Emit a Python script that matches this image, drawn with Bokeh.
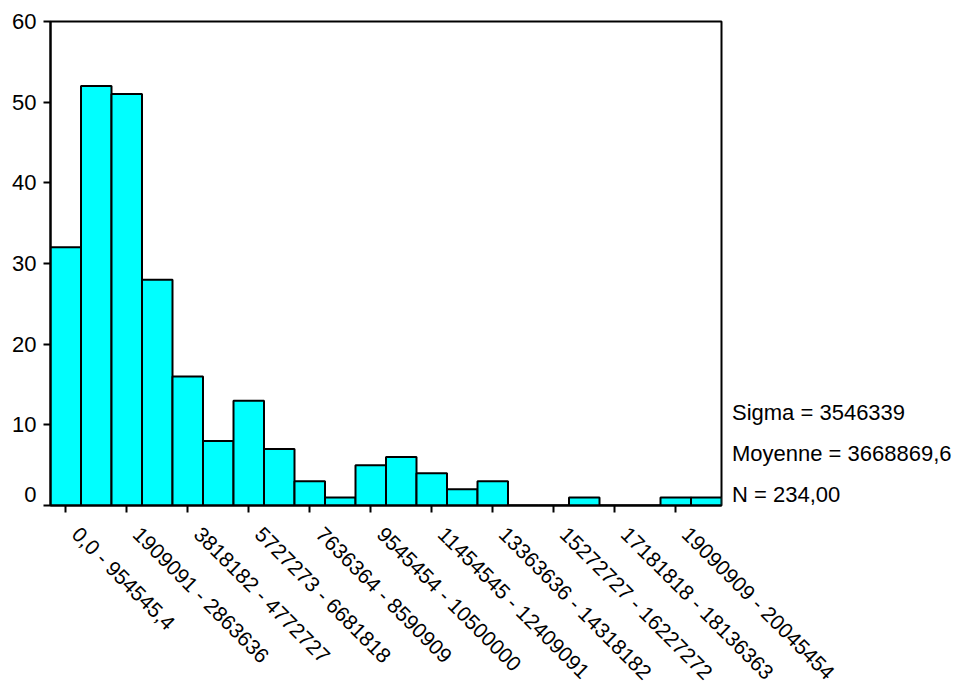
import math
from bokeh.plotting import figure
from bokeh.models import Range1d, FixedTicker, Legend, LegendItem, LinearAxis
from bokeh.core.properties import value
from bokeh.embed import file_html
from bokeh.resources import INLINE

# Histogram counts for 22 bins of width 954545.45 (0 .. 21,000,000)
counts = [32, 52, 51, 28, 16, 8, 13, 7, 3, 1, 5, 6, 4, 2, 3, 0, 0, 1, 0, 0, 1, 1]
tick_labels = [
    "0,0 - 954545,4",
    "1909091 - 2863636",
    "3818182 - 4772727",
    "5727273 - 6681818",
    "7636364 - 8590909",
    "9545454 - 10500000",
    "11454545 - 12409091",
    "13363636 - 14318182",
    "15272727 - 16227272",
    "17181818 - 18136363",
    "19090909 - 20045454",
]
y_ticks = [0, 10, 20, 30, 40, 50, 60]
y_tick_labels = ["0", "10", "20", "30", "40", "50", "60"]
stats = ["Sigma = 3546339", "Moyenne = 3668869,6", "N = 234,00"]

FONT = "Liberation Sans"
FS = "22px"
XFS = "21px"

n = len(counts)
lefts = list(range(n))
rights = [i + 1 for i in range(n)]
tick_pos = [2 * k + 0.5 for k in range(len(tick_labels))]
# labels sit slightly to the right of their tick (SPSS style)
label_pos = [t + 0.33 for t in tick_pos]
# the "0" label sits a little above its tick (SPSS style)
y_label_pos = [1.35] + y_ticks[1:]

p = figure(frame_width=671, frame_height=484, output_backend="svg", toolbar_location=None,
           x_range=Range1d(0, n), y_range=Range1d(0, 60),
           min_border_left=50, min_border_right=238, min_border_top=21, min_border_bottom=181)

p.quad(left=lefts, right=rights, bottom=0, top=counts,
       fill_color="#00FFFF", line_color="black", line_width=2)

p.xgrid.visible = False
p.ygrid.visible = False
p.outline_line_color = "black"
p.outline_line_width = 2
p.outline_line_alpha = 1

def tick_only_axis(ax, ticks):
    ax.ticker = FixedTicker(ticks=[], minor_ticks=ticks)
    ax.axis_line_color = "black"
    ax.axis_line_width = 2
    ax.major_tick_line_color = None
    ax.major_tick_out = 0
    ax.major_tick_in = 0
    ax.minor_tick_line_color = "black"
    ax.minor_tick_line_width = 2
    ax.minor_tick_out = 7
    ax.minor_tick_in = 0
    ax.major_label_standoff = 0

def label_only_axis(pos, labels, standoff, size, orientation="horizontal"):
    return LinearAxis(ticker=FixedTicker(ticks=pos),
                      major_label_overrides={t: l for t, l in zip(pos, labels)},
                      major_label_orientation=orientation,
                      major_label_standoff=standoff,
                      axis_line_color=None, major_tick_line_color=None,
                      minor_tick_line_color=None, major_tick_out=0, major_tick_in=0,
                      minor_tick_out=0, minor_tick_in=0,
                      major_label_text_font=FONT, major_label_text_font_size=size,
                      major_label_text_color="black")

# axis lines + tick marks
tick_only_axis(p.yaxis[0], y_ticks)
tick_only_axis(p.xaxis[0], tick_pos)

# tick labels
p.add_layout(label_only_axis(y_label_pos, y_tick_labels, 7, FS), "left")
p.add_layout(label_only_axis(label_pos, tick_labels, 18, XFS, -math.pi / 4), "below")

# invisible renderer to carry the statistics text in a side legend
dummy = p.scatter(x=[], y=[], size=1, fill_alpha=0, line_alpha=0)
legend = Legend(items=[LegendItem(label=value(s), renderers=[dummy]) for s in stats],
                location=(0, -10), margin=0, padding=0, spacing=0,
                glyph_width=1, glyph_height=41, label_height=41, label_standoff=10,
                label_text_font=FONT, label_text_font_size=FS, label_text_color="black",
                background_fill_alpha=0, border_line_color=None)
p.add_layout(legend, "right")

open("out.html", "w").write(file_html(p, INLINE))
